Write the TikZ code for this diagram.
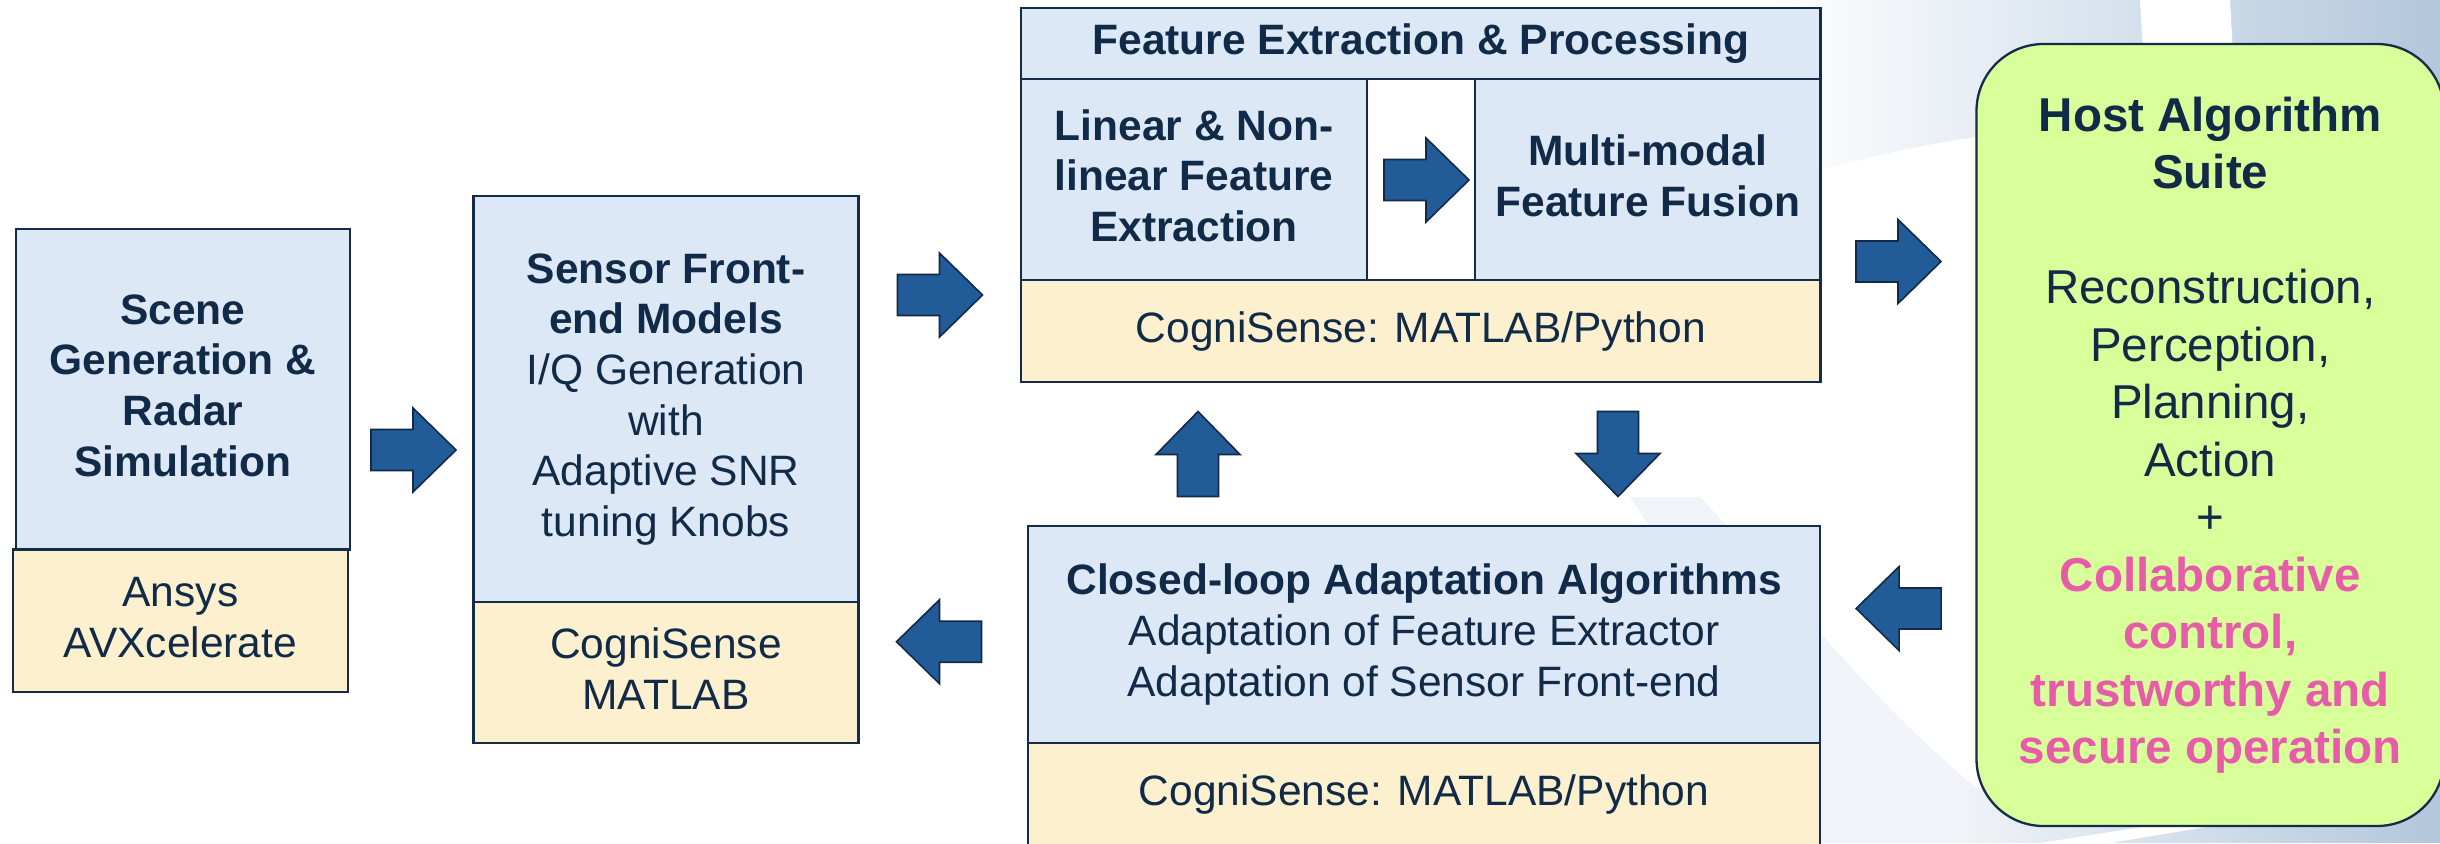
\documentclass[tikz,border=0pt]{standalone}
\usepackage{fontspec}
\setmainfont{Liberation Sans}
\usetikzlibrary{shadings}

\definecolor{ink}{RGB}{16,42,72}
\definecolor{edge}{RGB}{20,44,74}
\definecolor{cellblue}{RGB}{220,232,245}
\definecolor{cellcream}{RGB}{252,240,206}
\definecolor{arrowfill}{RGB}{34,92,152}
\definecolor{arrowedge}{RGB}{18,42,72}
\definecolor{hostgreen}{RGB}{217,255,155}
\definecolor{accentpink}{RGB}{231,92,168}
\definecolor{bgblue}{RGB}{178,199,220}
\definecolor{bggray}{RGB}{240,243,247}

% strut on first/last lines: vertical centring follows the cap height
\newcommand{\tstrut}{\rule[-0.2em]{0pt}{0.916em}}
\newcommand{\mainsize}{\fontsize{21.25pt}{25.35pt}\selectfont}
\newcommand{\hostsize}{\fontsize{23.75pt}{28.75pt}\selectfont}

\tikzset{
  box/.style={draw=edge, line width=1.15pt, inner sep=0pt, align=center,
    text=ink, font=\mainsize},
  bluecell/.style={box, fill=cellblue},
  creamcell/.style={box, fill=cellcream},
  blockarrow/.style={fill=arrowfill, draw=arrowedge, line width=0.8pt,
    line join=miter},
  barrow/.pic={
    \path[blockarrow] (-42.5,-20.5) -- (-0.5,-20.5) -- (-0.5,-42) -- (42.5,0)
      -- (-0.5,42) -- (-0.5,20.5) -- (-42.5,20.5) -- cycle;
  }
}

\begin{document}
\begin{tikzpicture}[x=0.5pt,y=-0.5pt]
\clip (0,0) rectangle (2440,843);
\fill[white] (0,0) rectangle (2440,843);

% slide backdrop: soft blue-grey sweeps at the right, faint grey swoosh
\shade[left color=white, right color=bgblue]
  (1770,0) -- (2440,0) -- (2440,140) -- (1976,137)
  .. controls (1900,148) and (1840,165) .. (1770,182) -- cycle;
\fill[white] (2140,0) -- (2230,0) -- (2234,70) -- (2144,70) -- cycle;
\fill[bggray] (1630,497) .. controls (1700,600) and (1780,750) .. (1800,843)
  -- (2020,843) -- (2020,822)
  .. controls (1880,720) and (1780,580) .. (1700,497) -- cycle;
\shade[left color=bggray, right color=bgblue]
  (1960,790) -- (2440,740) -- (2440,843) -- (1960,843) -- cycle;
\fill[white] (2040,843) -- (2200,818) -- (2260,818) -- (2110,843) -- cycle;

% scene generation
\node[bluecell, minimum width=167pt, minimum height=160.25pt,
  font=\mainsize\bfseries] (scene) at (183,389.25)
  {\tstrut Scene\\Generation \&\\Radar\\Simulation\tstrut};
\node[creamcell, minimum width=167.2pt, minimum height=71.25pt]
  (ansys) at (180.5,620.75) {\tstrut Ansys\\AVXcelerate\tstrut};

% sensor front-end
\node[bluecell, minimum width=192.5pt, minimum height=203pt]
  (sensor) at (666,399)
  {\tstrut\textbf{Sensor Front-}\\\textbf{end Models}\\I/Q Generation\\with\\Adaptive SNR\\tuning Knobs\tstrut};
\node[creamcell, minimum width=192.5pt, minimum height=70.5pt]
  (sensortool) at (666,672.5) {\tstrut CogniSense\\MATLAB\tstrut};

% feature extraction block
\node[bluecell, minimum width=399.75pt, minimum height=35.5pt,
  font=\mainsize\bfseries] (feattitle) at (1420.75,43.8)
  {\tstrut Feature Extraction \& Processing};
\node[bluecell, minimum width=173pt, minimum height=100.35pt,
  font=\mainsize\bfseries] (linear) at (1194,179.65)
  {\tstrut Linear \& Non-\\linear Feature\\Extraction\tstrut};
\node[bluecell, minimum width=172.75pt, minimum height=100.35pt,
  font=\mainsize\bfseries] (fusion) at (1647.75,179.65)
  {\tstrut Multi-modal\\Feature Fusion\tstrut};
\node[creamcell, minimum width=399.75pt, minimum height=51pt]
  (feattool) at (1420.75,331) {\tstrut CogniSense: MATLAB/Python};

% closed-loop adaptation block
\node[bluecell, minimum width=396pt, minimum height=108.65pt]
  (adapt) at (1424,634.35)
  {\tstrut\textbf{Closed-loop Adaptation Algorithms}\\Adaptation of Feature Extractor\\Adaptation of Sensor Front-end\tstrut};
\node[creamcell, minimum width=396pt, minimum height=51.8pt]
  (adapttool) at (1424,794.8) {\tstrut CogniSense: MATLAB/Python};

% host algorithm suite
\node[box, fill=hostgreen, rounded corners=33.5pt, minimum width=233.75pt,
  minimum height=391pt, font=\hostsize] (host) at (2210.25,435)
  {\tstrut\textbf{Host Algorithm}\\\textbf{Suite}\\[28.75pt]Reconstruction,\\Perception,\\Planning,\\Action\\+\\
   \textcolor{accentpink}{\textbf{Collaborative}}\\\textcolor{accentpink}{\textbf{control,}}\\
   \textcolor{accentpink}{\textbf{trustworthy and}}\\\textcolor{accentpink}{\textbf{secure operation}}\tstrut};

% block arrows
\pic (toSensor) at (413.5,450) {barrow};
\pic (toFeature) at (940,295) {barrow};
\pic (toFusion) at (1426.5,180) {barrow};
\pic (toHost) at (1898.5,261.5) {barrow};
\pic[rotate=90] (toFeatureUp) at (1198,454) {barrow};
\pic[rotate=-90] (toAdapt) at (1618,454) {barrow};
\pic[rotate=180] (toSensorBack) at (939,641.7) {barrow};
\pic[rotate=180] (fromHost) at (1898.6,608.5) {barrow};
\end{tikzpicture}
\end{document}
